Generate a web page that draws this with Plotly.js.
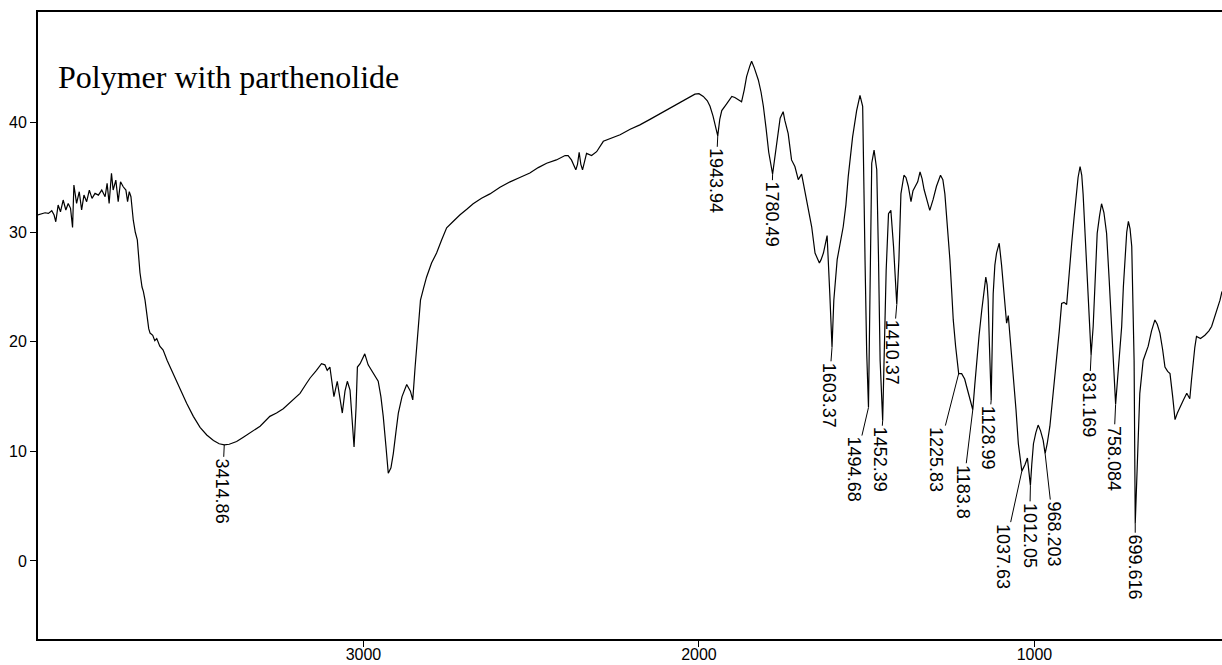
<!DOCTYPE html>
<html>
<head>
<meta charset="utf-8">
<script src="https://cdn.plot.ly/plotly-3.0.1.min.js"></script>
<style>
html,body{margin:0;padding:0;background:#fff;}
#chart{width:1222px;height:665px;}
</style>
</head>
<body>
<div id="chart"></div>
<script>
// Wavenumber (cm-1)
const wavenumber = [
3972,3959,3949,3939,3929,3922,3917,3910,3903,3895,3887,3880,3873,3867,3863,3855,3847,3840,3833,3825,3817,3809,3800,3790,3780,3770,3764,3758,3751,3746,3738,3731,3724,3716,3708,3703,3698,3693,
3686,3680,3674,3670,3666,3660,3656,3651,3645,3640,3636,3628,3622,3616,3607,3597,3585,3567,3547,3527,3507,3487,3467,3447,3430,3414.86,3400,3378,3358,3338,3308,3279,3259,3239,3214,3189,3170,3159,3140,3125,3115,3108,3100,3094,3088,3078,3072,3063,3055,3048,3040,3034,3028,3022,3018,3010,2996,2986,2971,2956,2948,2941,2933,2926,2918,2911,2903,2896,2885,2871,2860,2853,2846,2837,2830,2820,2812,2797,2782,2767,2752,2732,2712,2692,2673,2648,2623,2593,2563,2534,2504,2479,2454,2425,2399,2390,2380,2367,2362,2357,2352,2347,2335,2320,2305,2285,2260,2235,2205,2176,2146,2116,2086,2057,2030,2012,2000,1987,1975,1967,1958,1950,1943.94,1938,1932,1918,1902,1893,1880,1873,1865,1858,1848,1843,1835,1823,1815,1808,1800,1792,1780.49,1774,1768,1758,1749,1744,1734,1724,1714,1704,1694,1686,1679,1671,1664,1654,1647,1641,1636,1629,1618,1614,1610,1603.37,1598,1588,1578,1570,1562,1555,1542,1530,1520,1512,1505,1500,1494.68,1490,1485,1478,1470,1465,1460,1452.39,1447,1442,1435,1428,1420,1410.37,1404,1398,1389,1383,1376,1368,1362,1356,1348,1341,1335,1329,1320,1312,1302,1292,1280,1273,1267,1260,1252,1247,1242,1235,1225.83,1217,1208,1202,1193,1183.8,1178,1172,1165,1157,1150,1145,1141,1138,1134,1128.99,1123,1118,1113,1105,1098,1093,1088,1083,1078,1070,1063,1055,1048,1043,1037.63,1028,1021,1016,1012.05,1008,1003,996,989,982,974,968.203,962,954,944,934,926,919,912,904,896,889,882,876,870,864,859,855,850,844,838,831.169,825,819,813,806,800,793,785,777,770,764,758.084,750,740,735,730,725,720,715,710,706,703,699.616,694,690,686,676,668,661,651,641,634,626,618,611,603,596,588,581,574,566,556,546,537,532,527,522,517,505,492,480,472,460,447,441
];
// Transmittance (%T)
const transmittance = [
31.57,31.66,31.78,31.72,31.96,31.57,30.96,32.48,31.87,32.94,32.03,32.63,32.18,30.44,34.31,32.63,33.7,32.03,33.39,32.79,33.85,33.09,33.55,33.39,33.85,33.24,34.46,32.63,35.37,33.85,34.76,32.79,34.61,34.15,33.85,32.79,33.7,33.24,
31.1,30.0,29.3,27.8,26.3,25.0,24.6,23.8,22.3,21.2,20.8,20.6,20.1,20.3,19.6,19.25,18.3,17.1,15.7,14.4,13.2,12.2,11.5,11.0,10.7,10.6,10.65,10.9,11.3,11.7,12.3,13.2,13.5,13.9,14.6,15.3,16.2,16.7,17.4,18.0,17.9,17.4,17.7,16.5,15.0,16.4,15.1,13.5,15.5,16.4,15.6,13.0,10.4,14.0,17.7,18.0,18.9,17.9,17.2,16.4,15.0,13.2,10.5,8.0,8.5,9.8,11.8,13.5,15.0,16.1,15.5,14.7,17.7,21.4,23.8,25.0,25.9,27.2,28.1,29.3,30.4,31.0,31.6,32.1,32.6,33.1,33.5,34.1,34.6,35.0,35.4,35.9,36.3,36.6,37.0,37.0,36.6,35.7,36.2,37.3,36.2,35.7,37.2,37.0,37.35,38.3,38.6,38.9,39.4,39.8,40.3,40.8,41.3,41.8,42.3,42.6,42.65,42.4,42.0,41.5,40.6,39.6,38.8,40.3,41.1,41.7,42.4,42.3,42.0,41.9,43.0,44.2,45.2,45.6,45.0,43.9,42.8,41.5,39.5,37.3,35.3,36.8,38.4,40.4,41.0,40.2,39.0,36.6,36.0,34.8,35.3,34.0,32.6,31.6,30.5,28.1,27.6,27.2,27.5,28.1,29.7,27.5,24.4,19.5,23.8,27.5,29.2,30.5,32.5,35.1,38.7,41.1,42.5,41.5,27.5,19.0,14.0,24.4,36.3,37.5,35.7,28.0,18.3,12.8,20.0,26.5,31.7,32.0,28.7,23.4,27.5,33.5,35.2,35.0,34.2,32.8,33.8,34.2,34.6,35.5,34.9,33.9,32.9,32.0,33.0,34.2,35.2,34.8,33.5,31.0,27.5,24.8,22.0,19.6,17.1,17.1,16.6,15.9,14.9,13.8,16.0,18.3,20.6,22.9,24.7,25.9,25.2,23.8,19.5,14.7,24.4,27.0,28.1,29.0,27.0,25.0,23.5,21.7,22.4,19.5,16.8,13.8,10.7,9.3,8.2,8.8,9.4,8.0,6.9,8.8,10.7,11.7,12.4,11.9,11.0,9.8,10.7,12.3,15.3,18.3,21.0,23.5,23.6,23.4,26.0,29.0,31.3,33.5,35.0,36.0,35.2,33.5,30.6,27.5,23.4,18.8,21.4,25.9,29.9,31.5,32.6,31.8,29.9,25.5,21.4,17.8,14.3,17.5,21.4,25.0,28.1,30.0,31.0,30.3,28.7,24.0,18.3,3.4,9.0,13.0,15.3,18.3,19.0,19.6,21.0,22.0,21.6,20.8,19.3,17.7,17.3,17.1,15.0,12.9,13.5,14.1,14.7,15.3,14.8,16.5,18.3,19.5,20.5,20.3,20.6,21.0,21.4,22.5,23.8,24.6
];
// Labelled peaks
const peakLabels = ["3414.86","1943.94","1780.49","1603.37","1494.68","1452.39","1410.37","1225.83","1183.8","1128.99","1037.63","1012.05","968.203","831.169","758.084","699.616"];
const peakWavenumber = [3414.86,1943.94,1780.49,1603.37,1494.68,1452.39,1410.37,1225.83,1183.8,1128.99,1037.63,1012.05,968.203,831.169,758.084,699.616];
const peakValue = [10.6,38.8,35.3,19.5,14.0,12.8,23.4,17.1,13.8,14.7,8.2,6.9,9.8,18.8,14.3,3.4];
const xTickValues = [3000,2000,1000];
const xTickLabels = ["3000","2000","1000"];
const yTickValues = [0,10,20,30,40];
const yTickLabels = ["0","10","20","30","40"];
const chartTitle = "Polymer with parthenolide";

// label offsets (pixels) from each peak to its label centre
const labelDx = [-2,-2,-1,-3.5,-14.5,-2.7,-4,-22,-10,-3,-18.6,-1,9,-2.4,-2.4,0];
const labelDy = [46,45,40,48,62,39,48,86,82,38,85,50,80,50,54,43];

const labelFont = {family: "Liberation Sans, Arial, sans-serif", size: 18, color: "#000"};
const tickFont = {family: "Liberation Sans, Arial, sans-serif", size: 16, color: "#000"};

const annotations = peakLabels.map((t, i) => ({
  x: peakWavenumber[i], y: peakValue[i], xref: "x", yref: "y",
  text: t, textangle: 90, showarrow: true, arrowhead: 0, arrowwidth: 1,
  arrowcolor: "#000", ax: labelDx[i], ay: labelDy[i], standoff: 0,
  font: labelFont
}));

const trace = {
  x: wavenumber, y: transmittance, type: "scatter", mode: "lines",
  line: {color: "#000", width: 1.2}, hoverinfo: "x+y", showlegend: false
};

const layout = {
  width: 1222, height: 665,
  margin: {l: 38, r: 0, t: 12, b: 26, pad: 0},
  paper_bgcolor: "#fff", plot_bgcolor: "#fff",
  title: {text: chartTitle, font: {family: "Liberation Serif, Times New Roman, serif", size: 32, color: "#000"},
          x: 0.0475, xanchor: "left", y: 0.884, yanchor: "middle", xref: "container", yref: "container"},
  xaxis: {range: [3970, 441], tickvals: xTickValues, ticktext: xTickLabels, ticks: "outside", ticklen: 6,
          tickwidth: 1, tickcolor: "#000", showgrid: false, zeroline: false, showline: true, linecolor: "#000",
          linewidth: 2, mirror: true, tickfont: tickFont, automargin: false, ticklabelstandoff: -6},
  yaxis: {range: [-7.12, 50.1], tickvals: yTickValues, ticktext: yTickLabels, ticks: "outside", ticklen: 6,
          tickwidth: 1, tickcolor: "#000", showgrid: false, zeroline: false, showline: true, linecolor: "#000",
          linewidth: 2, mirror: true, tickfont: tickFont, automargin: false},
  annotations: annotations
};

Plotly.newPlot("chart", [trace], layout, {displayModeBar: false, staticPlot: true});
</script>
</body>
</html>
